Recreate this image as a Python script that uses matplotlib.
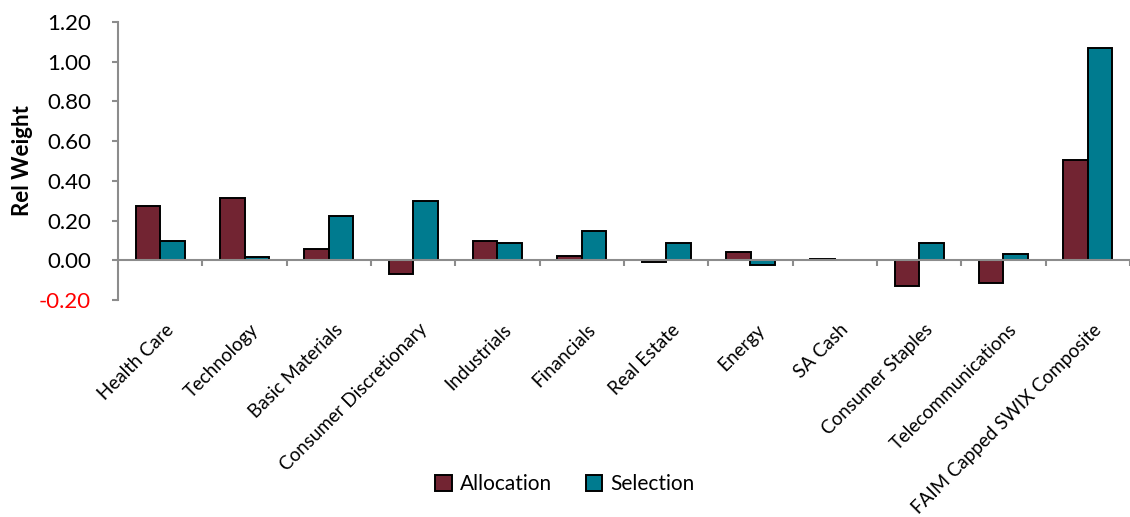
import numpy as np
import matplotlib.pyplot as plt
import matplotlib.transforms as mtransforms

categories = ["Health Care", "Technology", "Basic Materials", "Consumer Discretionary",
              "Industrials", "Financials", "Real Estate", "Energy", "SA Cash",
              "Consumer Staples", "Telecommunications", "FAIM Capped SWIX Composite"]
allocation = [0.274, 0.314, 0.059, -0.070, 0.099, 0.024, -0.010, 0.042, 0.008, -0.130, -0.114, 0.507]
selection = [0.097, 0.017, 0.225, 0.299, 0.089, 0.148, 0.089, -0.025, 0.0, 0.087, 0.032, 1.071]
yticks = [-0.20, 0.00, 0.20, 0.40, 0.60, 0.80, 1.00, 1.20]

plt.rcParams['font.family'] = ['Lato', 'DejaVu Sans']

fig = plt.figure(figsize=(11.3, 5.17), dpi=100)
ax = fig.add_axes([118 / 1130, 217 / 517, 1012 / 1130, 278 / 517])

x = np.arange(len(categories))
w = 0.29
ax.bar(x - w / 2, allocation, w, color='#722432', edgecolor='black', linewidth=1.4,
       label='Allocation', zorder=3)
ax.bar(x + w / 2, selection, w, color='#007B8F', edgecolor='black', linewidth=1.4,
       label='Selection', zorder=3)

ax.set_xlim(-0.5, len(categories) - 0.5)
ax.set_ylim(-0.2, 1.2)
ax.set_yticks(yticks)
ax.set_yticklabels([f"{v:.2f}" for v in yticks], fontsize=16)

for s in ['top', 'right']:
    ax.spines[s].set_visible(False)
ax.spines['left'].set_color('#8c8c8c')
ax.spines['left'].set_linewidth(1.5)
ax.spines['bottom'].set_position(('data', 0))
ax.spines['bottom'].set_color('#8c8c8c')
ax.spines['bottom'].set_linewidth(1.5)
ax.spines['bottom'].set_zorder(4)
ax.tick_params(axis='y', colors='#8c8c8c', labelcolor='black', length=4.5, width=1.5, pad=15)
for lbl, v in zip(ax.get_yticklabels(), yticks):
    if v < 0:
        lbl.set_color('red')

# boundary ticks on zero line, no labels
ax.set_xticks(np.arange(len(categories)) + 0.5)
ax.set_xticklabels([])
ax.tick_params(axis='x', colors='#8c8c8c', length=4, width=1.5, direction='out')

trans = mtransforms.blended_transform_factory(ax.transData, ax.transAxes)
for xi, name in zip(x, categories):
    ax.text(xi + 0.06, -0.075, name, transform=trans, rotation=45, ha='right', va='top',
            rotation_mode='anchor', fontsize=13.5)

ax.set_ylabel('Rel Weight', fontsize=16, fontweight='bold', labelpad=4)

fig.legend(loc='center', bbox_to_anchor=(565 / 1130, 1 - 484 / 517), ncol=2,
           frameon=False, fontsize=15, handlelength=0.8, handleheight=0.8,
           handletextpad=0.4, columnspacing=1.6)

fig.savefig('out.png', dpi=100)
